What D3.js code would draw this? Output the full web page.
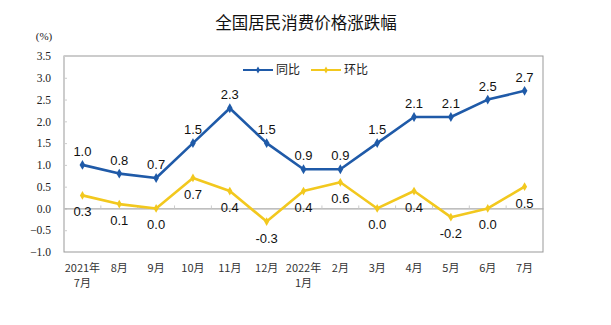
<!DOCTYPE html>
<html><head><meta charset="utf-8">
<script src="https://cdn.jsdelivr.net/npm/d3@7"></script>
<style>body{margin:0;background:#fff}svg{display:block}</style>
</head><body>
<script>
const categories = ["2021年\n7月","8月","9月","10月","11月","12月","2022年\n1月","2月","3月","4月","5月","6月","7月"];
const yoy = [1.0,0.8,0.7,1.5,2.3,1.5,0.9,0.9,1.5,2.1,2.1,2.5,2.7];
const mom = [0.3,0.1,0.0,0.7,0.4,-0.3,0.4,0.6,0.0,0.4,-0.2,0.0,0.5];
const yTicks = [-1.0,-0.5,0.0,0.5,1.0,1.5,2.0,2.5,3.0,3.5];
const seriesNames = ["同比","环比"];
const colors = ["#1f5aa8","#f2c81e"];

const W=611,H=325;
const svg=d3.select("body").append("svg").attr("width",W).attr("height",H);
const L=64,R=543,T=56,B=252;
const x=d3.scaleBand().domain(d3.range(categories.length)).range([L,R]);
const y=d3.scaleLinear().domain([-1,3.5]).range([B,T]);
const cx=i=>x(i)+x.bandwidth()/2;

svg.append("text").attr("x",306).attr("y",29).attr("text-anchor","middle")
  .attr("font-family","Noto Sans CJK SC").attr("font-size",16.5).attr("fill","#111").text("全国居民消费价格涨跌幅");
svg.append("text").attr("x",44).attr("y",40).attr("text-anchor","middle")
  .attr("font-family","Liberation Serif").attr("font-size",11).attr("fill","#222").text("(%)");

// frame
svg.append("rect").attr("x",L).attr("y",T).attr("width",R-L).attr("height",B-T)
  .attr("fill","none").attr("stroke","#999").attr("stroke-width",1);

// y axis
const ya=svg.append("g").attr("transform",`translate(${L},0)`)
  .call(d3.axisLeft(y).tickValues(yTicks).tickFormat(d3.format(".1f")).tickSize(3).tickPadding(10));
ya.attr("font-family",null);
ya.select(".domain").remove();
ya.selectAll("line").attr("stroke","#ccc").attr("transform","translate(3,0)");
ya.selectAll("text").attr("font-family","Liberation Serif").attr("font-size",11.5).attr("fill","#222");

// zero line with ticks
const za=svg.append("g").attr("transform",`translate(0,${y(0)})`)
  .call(d3.axisBottom(x).tickValues([]).tickSize(0));
za.select(".domain").attr("stroke","#aaa").attr("stroke-width",1.2);
svg.append("g").selectAll("line").data(d3.range(1,categories.length)).join("line")
  .attr("x1",i=>x(i)).attr("x2",i=>x(i)).attr("y1",y(0)-3).attr("y2",y(0))
  .attr("stroke","#ccc");

// x labels
const xl=svg.append("g").attr("font-family","Noto Sans CJK SC").attr("font-size",11).attr("fill","#333");
categories.forEach((c,i)=>{
  const parts=c.split("\n");
  const t=xl.append("text").attr("x",cx(i)).attr("y",272).attr("text-anchor","middle");
  parts.forEach((p,k)=>t.append("tspan").attr("x",cx(i)).attr("dy",k?15:0).text(p));
});

// lines
const line=d3.line().x((d,i)=>cx(i)).y(d=>y(d));
[yoy,mom].forEach((s,k)=>{
  svg.append("path").datum(s).attr("d",line).attr("fill","none")
    .attr("stroke",colors[k]).attr("stroke-width",2.6).attr("stroke-linejoin","round");
  svg.append("g").selectAll("path").data(s).join("path")
    .attr("d",d3.symbol(d3.symbolDiamond,k?22:28)())
    .attr("transform",(d,i)=>`translate(${cx(i)},${y(d)})`).attr("fill",colors[k]);
});

// data labels
const lab=svg.append("g").attr("font-family","Liberation Sans").attr("font-size",13).attr("fill","#111").attr("text-anchor","middle");
yoy.forEach((d,i)=>lab.append("text").attr("x",cx(i)).attr("y",y(d)-9).text(d.toFixed(1)));
mom.forEach((d,i)=>lab.append("text").attr("x",cx(i)).attr("y",y(d)+21).text(d.toFixed(1)));

// legend
const lg=svg.append("g").attr("font-family","Noto Sans CJK SC").attr("font-size",12).attr("fill","#222");
[[243,seriesNames[0]],[311,seriesNames[1]]].forEach(([lx,n],k)=>{
  lg.append("line").attr("x1",lx).attr("x2",lx+30).attr("y1",70).attr("y2",70).attr("stroke",colors[k]).attr("stroke-width",2);
  lg.append("path").attr("d",d3.symbol(d3.symbolDiamond,14)()).attr("transform",`translate(${lx+15},70)`).attr("fill",colors[k]);
  lg.append("text").attr("x",lx+33).attr("y",74).text(n);
});
</script>
</body></html>
